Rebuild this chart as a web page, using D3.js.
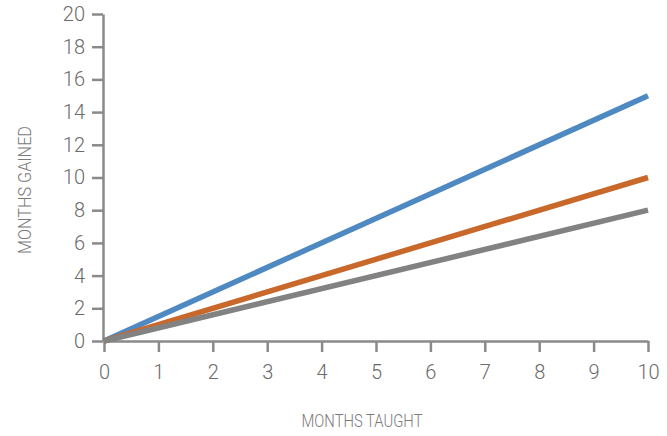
<!DOCTYPE html>
<html><head><meta charset="utf-8">
<script src="https://cdn.jsdelivr.net/npm/d3@7"></script>
<style>body{margin:0;background:#fff}svg{display:block}</style>
</head><body>
<svg id="c" width="667" height="436"></svg>
<script>
const xTicks = [0,1,2,3,4,5,6,7,8,9,10];
const yTicks = [0,2,4,6,8,10,12,14,16,18,20];
const seriesNames = ["blue","orange","gray"];
const seriesColors = ["#4e89c2","#c8682b","#828282"];
const monthsTaught = [0, 10];
const blueGained = [0, 15];
const orangeGained = [0, 10];
const grayGained = [0, 8];
const seriesValues = [blueGained, orangeGained, grayGained];

const svg = d3.select("#c");
const x = d3.scaleLinear().domain([0,10]).range([104,648]);
const y = d3.scaleLinear().domain([0,20]).range([341,14]);
const axisColor = "#8a8a8a";
const font = "Roboto, 'Liberation Sans Narrow', sans-serif";

const xa = svg.append("g").attr("transform","translate(0,341)")
  .call(d3.axisBottom(x).tickValues(xTicks).tickSize(11).tickPadding(13).tickSizeOuter(0).tickFormat(d3.format("d")));
const ya = svg.append("g").attr("transform","translate(103,0)")
  .call(d3.axisLeft(y).tickValues(yTicks).tickSize(11).tickPadding(7).tickSizeOuter(0).tickFormat(d3.format("d")));
[xa,ya].forEach(a=>{
  a.selectAll("path,line").attr("stroke",axisColor).attr("stroke-width",2.5);
  a.selectAll("text").attr("fill","#6a6a6a").style("font-family",font).style("font-weight",300).style("font-size","20px");
});

const line = d3.line().x((d,i)=>x(monthsTaught[i])).y(d=>y(d));
seriesValues.forEach((vals,k)=>{
  svg.append("path").datum(vals).attr("d",line)
    .attr("fill","none").attr("stroke",seriesColors[k]).attr("stroke-width",5.5)
    .attr("stroke-linecap","butt");
});

svg.append("text").text("MONTHS TAUGHT")
  .attr("x",362).attr("y",427).attr("text-anchor","middle")
  .attr("textLength",121).attr("lengthAdjust","spacingAndGlyphs")
  .attr("fill","#7a7a7a").style("font-family",font).style("font-weight",300).style("font-size","18px");
svg.append("text").text("MONTHS GAINED")
  .attr("transform","translate(31,190) rotate(-90)").attr("text-anchor","middle")
  .attr("textLength",128).attr("lengthAdjust","spacingAndGlyphs")
  .attr("fill","#7a7a7a").style("font-family",font).style("font-weight",300).style("font-size","18px");
</script>
</body></html>
